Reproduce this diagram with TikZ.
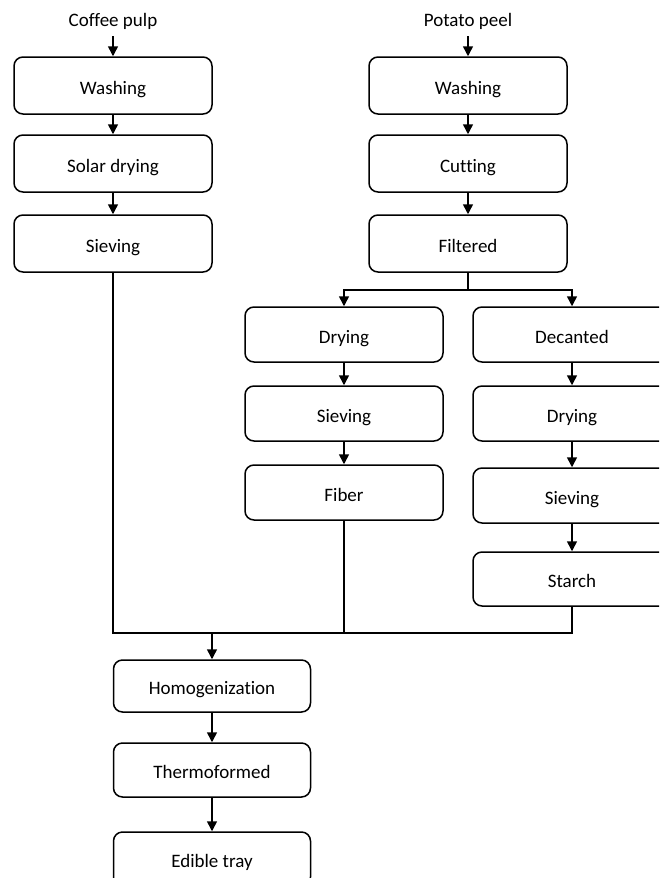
\documentclass[tikz,border=0pt]{standalone}
\usepackage{fontspec}
\setmainfont{Carlito}[Ligatures={NoCommon}]
\usetikzlibrary{arrows.meta}
\begin{document}
\begin{tikzpicture}[x=1pt,y=-1pt,
 box/.style={draw,line width=1.5pt,rounded corners=9pt,minimum width=198pt,minimum height=57pt,inner sep=0pt,text height=20pt,text depth=3pt,font=\fontsize{19}{23}\selectfont},
 lbl/.style={inner sep=0pt,anchor=base,font=\fontsize{19}{23}\selectfont},
 arr/.style={line width=1.5pt,-{Triangle[length=10pt,width=10pt]}},
 ln/.style={line width=1.5pt}]
\useasboundingbox (0,0) rectangle (659,878);
\clip (0,0) rectangle (659,878);
% left column
\node[lbl] (cp) at (113,27) {Coffee pulp};
\node[box] (cw) at (113,85.5) {Washing};
\node[box] (cs) at (113,163.5) {Solar drying};
\node[box] (csv) at (113,243.5) {Sieving};
% right column
\node[lbl] (pp) at (468,27) {Potato peel};
\node[box] (pw) at (468,85.5) {Washing};
\node[box] (pc) at (468,163.5) {Cutting};
\node[box] (pf) at (468,243.5) {Filtered};
% middle-left
\node[box,minimum height=55pt] (d1) at (344,334.5) {Drying};
\node[box,minimum height=55pt] (s1) at (344,413.5) {Sieving};
\node[box,minimum height=55pt] (f1) at (344,492.5) {Fiber};
% far right
\node[box,minimum height=55pt] (dc) at (572,334.5) {Decanted};
\node[box,minimum height=55pt] (d2) at (572,413.5) {Drying};
\node[box,minimum height=55pt] (s2) at (572,495.5) {Sieving};
\node[box,minimum height=54pt] (st) at (572,579) {Starch};
% bottom
\node[box,minimum width=197pt,minimum height=52pt] (hom) at (212,686) {Homogenization};
\node[box,minimum width=197pt,minimum height=54pt] (th) at (212,770) {Thermoformed};
\node[box,minimum width=197pt,minimum height=54pt] (et) at (212,859) {Edible tray};
% connectors
\draw[arr] ([yshift=-6pt]cp.south) -- (cw.north);
\draw[arr] (cw) -- (cs);
\draw[arr] (cs) -- (csv);
\draw[arr] ([yshift=-6pt]pp.south) -- (pw.north);
\draw[arr] (pw) -- (pc);
\draw[arr] (pc) -- (pf);
\coordinate (sp) at (468,290);
\draw[ln] (pf) -- (sp);
\draw[arr] (sp) -| (d1.north);
\draw[arr] (sp) -| (dc.north);
\draw[arr] (d1) -- (s1);
\draw[arr] (s1) -- (f1);
\draw[arr] (dc) -- (d2);
\draw[arr] (d2) -- (s2);
\draw[arr] (s2) -- (st);
\coordinate (mg) at (212,633);
\draw[ln] (csv.south) |- (mg);
\draw[ln] (f1.south) |- (mg);
\draw[ln] (st.south) |- (mg);
\draw[arr] (mg) -- (hom.north);
\draw[arr] (hom) -- (th);
\draw[arr] (th) -- (et);
\end{tikzpicture}
\end{document}
